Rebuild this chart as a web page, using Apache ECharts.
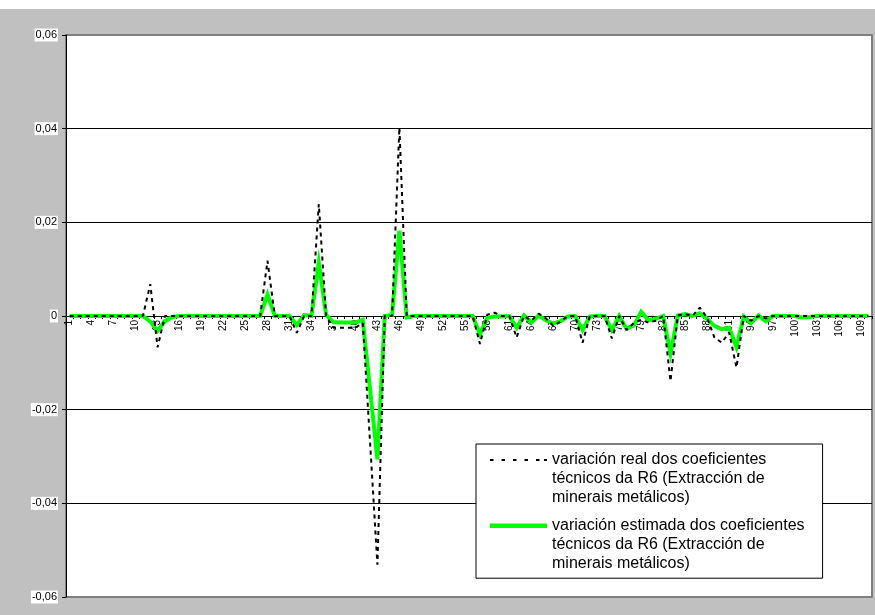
<!DOCTYPE html>
<html>
<head>
<meta charset="utf-8">
<script src="https://cdn.jsdelivr.net/npm/echarts@6/dist/echarts.min.js"></script>
<style>
html,body{margin:0;padding:0;background:#ffffff;}
#chart{position:absolute;left:0;top:9px;width:875px;height:606px;}
</style>
</head>
<body>
<div id="chart"></div>
<script>
// categories 1..110
const categories = [];
for (let i = 1; i <= 110; i++) categories.push(String(i));

// variación real (black dashed)
const realValues = [
  0,0,0,0,0,0,0,0,0,0,
  0,0.0068,-0.0067,0,0,0,0,0,0,0,
  0,0,0,0,0,0,0,0.0118,0,0,
  0,-0.0036,0,0,0.0239,0,-0.0025,-0.0025,-0.0025,-0.0025,
  -0.0015,-0.027,-0.0531,0,0,0.0403,0,0,0,0,
  0,0,0,0,0,0,-0.006,0.0003,0.0007,0,
  0,-0.0046,0,-0.001,0.0005,-0.0005,-0.0021,-0.0012,0,0,
  -0.0057,0,0,0,-0.0048,0,-0.003,-0.0015,-0.0008,-0.0014,
  -0.001,0,-0.0139,0.0001,0.0004,0,0.0018,-0.0004,-0.0046,-0.0057,
  -0.0035,-0.011,0,-0.001,0,-0.0005,0,0,0,0,
  0,0,0,0,0,0,0,0,0,0
];

// variación estimada (green)
const estValues = [
  0,0,0,0,0,0,0,0,0,0,
  0,-0.0012,-0.0032,-0.0011,-0.0002,0,0,0,0,0,
  0,0,0,0,0,0,0,0.0046,0,0,
  0,-0.0019,0.0002,0,0.0114,0.0002,-0.0013,-0.0014,-0.0014,-0.0014,
  -0.0008,-0.0157,-0.0306,0,0.0002,0.0182,-0.0003,0,0,0,
  0,0,0,0,0,0,-0.0039,-0.0004,-0.0001,-0.0001,
  0,-0.0025,0.0001,-0.0014,0.0001,-0.0009,-0.0016,-0.0011,-0.0001,0,
  -0.003,-0.0001,0,0,-0.003,0,-0.0027,-0.002,0.0009,-0.0009,
  -0.0006,0,-0.008,0.0001,0.0004,0,0.0006,-0.0006,-0.0021,-0.0028,
  -0.0025,-0.0066,-0.0001,-0.0015,0.0001,-0.0011,0,0,0,0,
  -0.0003,-0.0002,0,0,0,0,0,0,0,0
];

const yMin = -0.06, yMax = 0.06, yInterval = 0.02;

const seriesNames = ['real', 'estimada'];
const legendTexts = [
  'variación real dos coeficientes\ntécnicos da R6 (Extracción de\nminerais metálicos)',
  'variación estimada dos coeficientes\ntécnicos da R6 (Extracción de\nminerais metálicos)'
];

const FONT = "'Liberation Sans', Arial, sans-serif";

// layout
const GRID_TOP = 26, GRID_BOTTOM = 18, CHART_H = 606;
const GRID_H = CHART_H - GRID_TOP - GRID_BOTTOM;
// x axis sits on the zero line (middle of the symmetric y range)
const X_AXIS_OFFSET = -GRID_H * (0 - yMin) / (yMax - yMin);

// legend icons: sample line drawn at first text line (box 57 x 57)
const dashIcon = 'path://M0,8.5L3.5,8.5L3.5,10.5L0,10.5Z M11.5,8.5L15,8.5L15,10.5L11.5,10.5Z M23,8.5L26.5,8.5L26.5,10.5L23,10.5Z M34.5,8.5L38,8.5L38,10.5L34.5,10.5Z M46,8.5L49.5,8.5L49.5,10.5L46,10.5Z M54,8.5L57,8.5L57,10.5L54,10.5Z M0,0L0.01,0L0.01,0.01Z M56.99,57L57,57L57,56.99Z';
const solidIcon = 'path://M0,7.2L57,7.2L57,11.8L0,11.8Z M0,0L0.01,0L0.01,0.01Z M56.99,57L57,57L57,56.99Z';

const chart = echarts.init(document.getElementById('chart'), null, {renderer: 'canvas'});
chart.setOption({
  backgroundColor: '#c0c0c0',
  animation: false,
  textStyle: {fontFamily: FONT},
  grid: {
    left: 66, right: 3, top: GRID_TOP, bottom: GRID_BOTTOM,
    show: true, backgroundColor: '#ffffff',
    borderColor: '#808080', borderWidth: 2
  },
  xAxis: {
    type: 'category',
    data: categories,
    boundaryGap: true,
    position: 'bottom',
    offset: X_AXIS_OFFSET,
    axisLine: {onZero: false, lineStyle: {color: '#000', width: 1}},
    axisTick: {show: true, interval: 0, length: 3, lineStyle: {color: '#000'}},
    axisLabel: {
      interval: 2, rotate: 90, margin: 4,
      fontSize: 10, color: '#000', fontFamily: FONT
    },
    splitLine: {show: false}
  },
  yAxis: {
    type: 'value',
    min: yMin, max: yMax, interval: yInterval,
    axisLine: {show: true, lineStyle: {color: '#000', width: 1}},
    axisTick: {show: true, length: 4, lineStyle: {color: '#000'}},
    axisLabel: {
      fontSize: 11, color: '#000', fontFamily: FONT, margin: 8,
      backgroundColor: '#ffffff', padding: [1, 1, 1, 1],
      formatter: function (v) {
        if (Math.abs(v) < 1e-9) return '0';
        return v.toFixed(2).replace('.', ',');
      }
    },
    splitLine: {
      show: true, showMinLine: false, showMaxLine: false,
      lineStyle: {color: '#000', width: 1}
    }
  },
  legend: {
    orient: 'vertical',
    left: 476, top: 435,
    padding: [6.5, 18, 5, 14],
    itemGap: 8.7,
    itemWidth: 57, itemHeight: 57,
    backgroundColor: '#ffffff',
    borderColor: '#000', borderWidth: 1,
    selectedMode: false,
    textStyle: {fontSize: 16, lineHeight: 19, color: '#000', fontFamily: FONT},
    formatter: function (name) {
      return legendTexts[seriesNames.indexOf(name)];
    },
    data: [
      {name: seriesNames[0], icon: dashIcon, itemStyle: {color: '#000', borderWidth: 0}},
      {name: seriesNames[1], icon: solidIcon, itemStyle: {color: '#00ff00', borderWidth: 0}}
    ]
  },
  series: [
    {
      name: seriesNames[1],
      type: 'line',
      data: estValues,
      showSymbol: false, symbol: 'none',
      z: 2,
      color: '#00ff00',
      lineStyle: {color: '#00ff00', width: 4, join: 'miter'}
    },
    {
      name: seriesNames[0],
      type: 'line',
      data: realValues,
      showSymbol: false, symbol: 'none',
      z: 3,
      color: '#000',
      lineStyle: {color: '#000', width: 2, type: [4, 4], cap: 'butt'}
    }
  ]
});
</script>
</body>
</html>
